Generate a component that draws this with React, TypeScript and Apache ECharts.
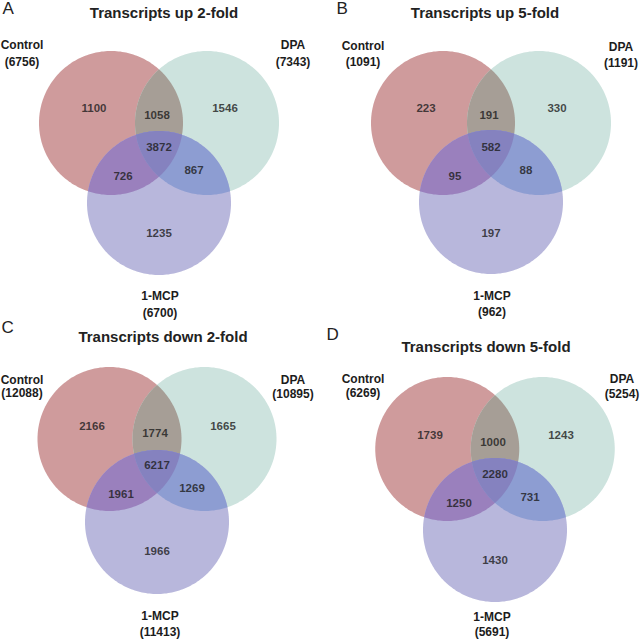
import { useEffect, useRef } from "react";
import * as echarts from "echarts";

// ---------- data ----------
const panelLetters = ["A", "B", "C", "D"];
const panelTitles = [
  "Transcripts up 2-fold",
  "Transcripts up 5-fold",
  "Transcripts down 2-fold",
  "Transcripts down 5-fold",
];
const setNames = ["Control", "DPA", "1-MCP"];
const setTotals = [
  [6756, 7343, 6700],
  [1091, 1191, 962],
  [12088, 10895, 11413],
  [6269, 5254, 5691],
];
// region order: Control only, Control∩DPA, DPA only, all three, Control∩1-MCP, DPA∩1-MCP, 1-MCP only
const regionCounts = [
  [1100, 1058, 1546, 3872, 726, 867, 1235],
  [223, 191, 330, 582, 95, 88, 197],
  [2166, 1774, 1665, 6217, 1961, 1269, 1966],
  [1739, 1000, 1243, 2280, 1250, 731, 1430],
];

// ---------- layout ----------
const HALF = 140; // grid half-size (data units == px)
const RADIUS = 72;
const panelLayout = [
  { cx: 159, cy: 163, hsep: 96, vsep: 80, title: [164, 12.5], letter: [2.5, 8], names: [[22, 45, 62], [293, 44.5, 62], [160, 296, 313]] },
  { cx: 491, cy: 162.5, hsep: 96, vsep: 79, title: [485, 12.5], letter: [336.5, 8], names: [[363, 46, 62], [621, 46.5, 63], [492, 296, 312]] },
  { cx: 157, cy: 480.5, hsep: 95, vsep: 83, title: [163, 336], letter: [1.5, 327.5], names: [[22, 379.5, 393], [293, 380, 393.5], [160, 616, 632]] },
  { cx: 495, cy: 489.5, hsep: 95.5, vsep: 81, title: [486, 346], letter: [326.5, 334], names: [[363, 379, 393], [622, 379, 394], [492, 617, 632]] },
];
// label offsets from diagram centre (px, y down)
const regionOffsets = [
  [-65, -55], [-2, -48], [66, -55], [0, -16], [-36, 13], [35, 7], [0, 70],
];
const circleColors = ["#cf9b9c", "#cde3de", "#b8b7dc"];
const pairColors = { rt: "#a69e96", rb: "#9a80bd", tb: "#8d9dd2" };
const tripleColor = "#8582bf";
const FONT = '"Liberation Sans", Arial, Helvetica, sans-serif';
const TEXT = "#1c1c1c";

type Pt = [number, number];

function circlePoly(cx: number, cy: number, r: number, n = 240): Pt[] {
  const pts: Pt[] = [];
  for (let i = 0; i < n; i++) {
    const a = (i / n) * Math.PI * 2;
    pts.push([cx + r * Math.cos(a), cy + r * Math.sin(a)]);
  }
  return pts;
}

function clipPoly(subject: Pt[], clip: Pt[]): Pt[] {
  let output = subject;
  for (let i = 0; i < clip.length; i++) {
    if (!output.length) break;
    const a = clip[i];
    const b = clip[(i + 1) % clip.length];
    const dx = b[0] - a[0];
    const dy = b[1] - a[1];
    const side = (p: Pt) => dx * (p[1] - a[1]) - dy * (p[0] - a[0]);
    const input = output;
    output = [];
    for (let j = 0; j < input.length; j++) {
      const cur = input[j];
      const prev = input[(j + input.length - 1) % input.length];
      const sc = side(cur);
      const sp = side(prev);
      if (sc >= 0) {
        if (sp < 0) {
          const t = sp / (sp - sc);
          output.push([prev[0] + t * (cur[0] - prev[0]), prev[1] + t * (cur[1] - prev[1])]);
        }
        output.push(cur);
      } else if (sp >= 0) {
        const t = sp / (sp - sc);
        output.push([prev[0] + t * (cur[0] - prev[0]), prev[1] + t * (cur[1] - prev[1])]);
      }
    }
  }
  return output;
}

function buildOption() {
  const grids: any[] = [];
  const xAxes: any[] = [];
  const yAxes: any[] = [];
  const series: any[] = [];
  const graphics: any[] = [];

  panelLayout.forEach((L, p) => {
    grids.push({ left: L.cx - HALF, top: L.cy - HALF, width: HALF * 2, height: HALF * 2, containLabel: false });
    xAxes.push({ type: "value", gridIndex: p, min: -HALF, max: HALF, show: false });
    yAxes.push({ type: "value", gridIndex: p, min: -HALF, max: HALF, show: false });

    const red = circlePoly(-L.hsep / 2, L.vsep / 2, RADIUS);
    const teal = circlePoly(L.hsep / 2, L.vsep / 2, RADIUS);
    const blue = circlePoly(0, -L.vsep / 2, RADIUS);
    const rt = clipPoly(red, teal);
    const rb = clipPoly(red, blue);
    const tb = clipPoly(teal, blue);
    const rtb = clipPoly(rt, blue);

    series.push({
      type: "custom",
      xAxisIndex: p,
      yAxisIndex: p,
      coordinateSystem: "cartesian2d",
      data: [[0, 0]],
      clip: false,
      z: 1,
      silent: true,
      renderItem: (_params: any, api: any) => {
        const px = (pts: Pt[]) => pts.map((q) => api.coord(q));
        const shapes: [Pt[], string][] = [
          [red, circleColors[0]],
          [teal, circleColors[1]],
          [blue, circleColors[2]],
          [rt, pairColors.rt],
          [rb, pairColors.rb],
          [tb, pairColors.tb],
          [rtb, tripleColor],
        ];
        return {
          type: "group",
          children: shapes.map(([pts, fill]) => ({
            type: "polygon",
            shape: { points: px(pts) },
            style: { fill, stroke: null },
          })),
        };
      },
    });

    series.push({
      type: "scatter",
      xAxisIndex: p,
      yAxisIndex: p,
      z: 5,
      symbolSize: 1,
      silent: true,
      itemStyle: { color: "rgba(0,0,0,0)" },
      label: {
        show: true,
        position: "inside",
        formatter: (d: any) => d.name,
        color: TEXT,
        fontFamily: FONT,
        fontWeight: "bold",
        fontSize: 11.5,
      },
      data: regionCounts[p].map((v, k) => ({
        name: String(v),
        value: [regionOffsets[k][0], -regionOffsets[k][1]],
      })),
    });

    graphics.push({
      type: "text",
      x: L.title[0],
      y: L.title[1],
      style: {
        text: panelTitles[p],
        font: `bold 15px ${FONT}`,
        fill: "#222",
        align: "center",
        verticalAlign: "middle",
        textAlign: "center",
        textVerticalAlign: "middle",
      },
    });
    graphics.push({
      type: "text",
      x: L.letter[0],
      y: L.letter[1],
      style: {
        text: panelLetters[p],
        font: `17px ${FONT}`,
        fill: "#222",
        align: "left",
        verticalAlign: "middle",
        textAlign: "left",
        textVerticalAlign: "middle",
      },
    });
    setNames.forEach((nm, k) => {
      const [x, y1, y2] = L.names[k];
      graphics.push({
        type: "text",
        x,
        y: y1,
        style: {
          text: nm,
          font: `bold 12px ${FONT}`,
          fill: TEXT,
          align: "center",
          verticalAlign: "middle",
          textAlign: "center",
          textVerticalAlign: "middle",
        },
      });
      graphics.push({
        type: "text",
        x,
        y: y2,
        style: {
          text: `(${setTotals[p][k]})`,
          font: `bold 12px ${FONT}`,
          fill: TEXT,
          align: "center",
          verticalAlign: "middle",
          textAlign: "center",
          textVerticalAlign: "middle",
        },
      });
    });
  });

  return {
    animation: false,
    backgroundColor: "#ffffff",
    grid: grids,
    xAxis: xAxes,
    yAxis: yAxes,
    series,
    graphic: { elements: graphics },
  };
}

export default function App() {
  const ref = useRef<HTMLDivElement>(null);
  useEffect(() => {
    if (!ref.current) return;
    const chart = echarts.init(ref.current, undefined, { renderer: "svg" });
    chart.setOption(buildOption() as any);
    return () => chart.dispose();
  }, []);
  return (
    <div
      ref={ref}
      style={{ position: "absolute", left: 0, top: 0, width: 640, height: 639, background: "#fff" }}
    />
  );
}
